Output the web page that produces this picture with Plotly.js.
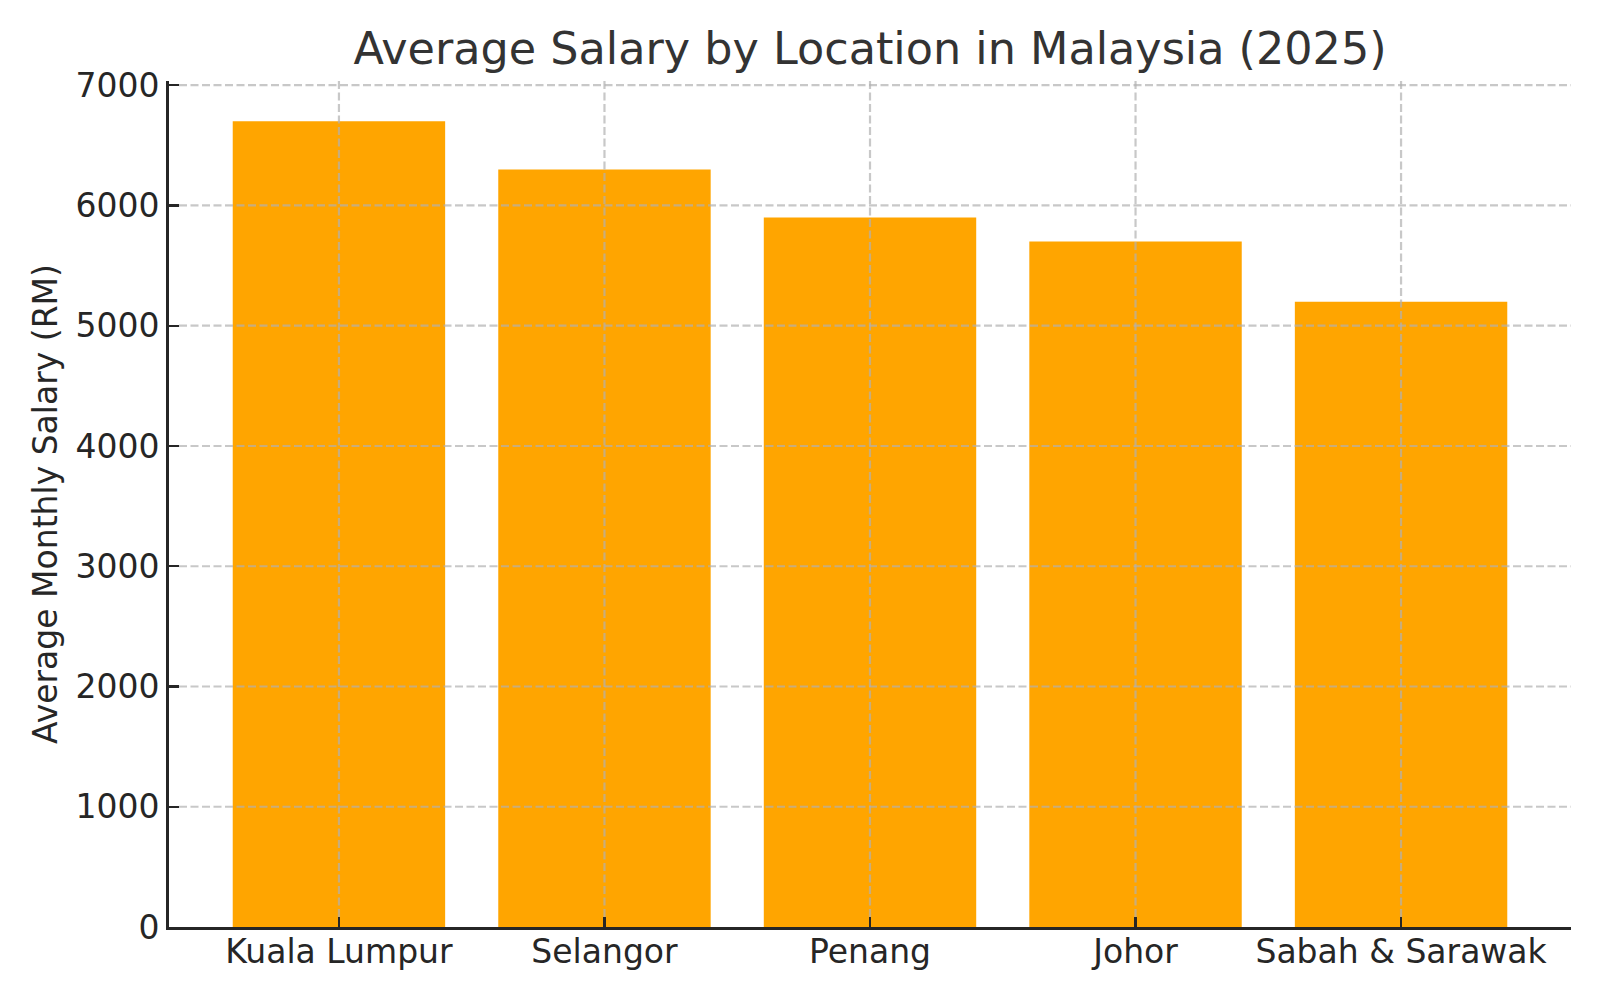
<!DOCTYPE html>
<html>
<head>
<meta charset="utf-8">
<script src="https://cdn.plot.ly/plotly-3.0.1.min.js"></script>
<style>
  body { margin: 0; background: #fff; }
  #chart { width: 1600px; height: 1000px; }
</style>
</head>
<body>
<div id="chart"></div>
<script>
// data
var locations = ['Kuala Lumpur', 'Selangor', 'Penang', 'Johor', 'Sabah & Sarawak'];
var salaries = [6700, 6300, 5900, 5700, 5200];
var yTicks = [0, 1000, 2000, 3000, 4000, 5000, 6000, 7000];

var font = 'DejaVu Sans, sans-serif';
var gridColor = 'rgba(176,176,176,0.7)';
var margin = {l: 169, r: 29, t: 81, b: 73, pad: 0};
var tickLen = 10;

// grid sits on top of the bars, so draw it as shapes,
// starting just past the inside ticks so the ticks stay dark
var plotW = 1600 - margin.l - margin.r;
var plotH = 1000 - margin.t - margin.b;
var shapes = [];
for (var i = 1; i < yTicks.length; i++) {
    shapes.push({
        type: 'line', layer: 'above',
        xref: 'paper', x0: tickLen / plotW, x1: 1,
        yref: 'y', y0: yTicks[i], y1: yTicks[i],
        line: {color: gridColor, width: 2.2, dash: '8px,3.5px'}
    });
}
for (var j = 0; j < locations.length; j++) {
    shapes.push({
        type: 'line', layer: 'above',
        xref: 'x', x0: j, x1: j,
        yref: 'paper', y0: tickLen / plotH, y1: 1,
        line: {color: gridColor, width: 2.2, dash: '8px,3.5px'}
    });
}

var trace = {
    x: locations,
    y: salaries,
    type: 'bar',
    marker: {color: '#FFA500', line: {width: 0}},
    hoverinfo: 'x+y'
};

var layout = {
    width: 1600,
    height: 1000,
    margin: margin,
    paper_bgcolor: '#ffffff',
    plot_bgcolor: '#ffffff',
    font: {family: font, color: '#262626', size: 33},
    showlegend: false,
    bargap: 0.2,
    title: {
        text: 'Average Salary by Location in Malaysia (2025)',
        font: {family: font, size: 44.5, color: '#333333'},
        x: 0.5, xref: 'paper', xanchor: 'center',
        y: 0.952, yref: 'container', yanchor: 'middle'
    },
    xaxis: {
        type: 'category',
        range: [-0.64, 4.64],
        showgrid: false,
        zeroline: false,
        showline: true, linecolor: '#262626', linewidth: 2.8,
        ticks: 'inside', ticklen: tickLen, tickwidth: 2.4, tickcolor: '#262626',
        tickfont: {family: font, size: 33, color: '#262626'},
        ticklabelstandoff: -6,
        layer: 'above traces'
    },
    yaxis: {
        range: [0, 7035],
        tickvals: yTicks,
        ticktext: yTicks.map(String),
        showgrid: false,
        zeroline: false,
        showline: true, linecolor: '#262626', linewidth: 2.8,
        ticks: 'inside', ticklen: tickLen, tickwidth: 2.4, tickcolor: '#262626',
        tickfont: {family: font, size: 33, color: '#262626'},
        layer: 'above traces',
        title: {
            text: 'Average Monthly Salary (RM)',
            font: {family: font, size: 33, color: '#262626'},
            standoff: 8
        }
    },
    shapes: shapes
};

Plotly.newPlot('chart', [trace], layout, {displayModeBar: false, staticPlot: true});
</script>
</body>
</html>
